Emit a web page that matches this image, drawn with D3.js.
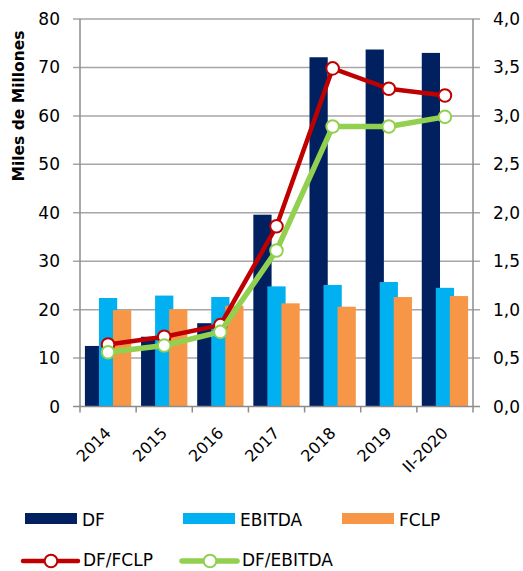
<!DOCTYPE html>
<html><head><meta charset="utf-8">
<script src="https://cdn.jsdelivr.net/npm/d3@7"></script>
<style>body{margin:0;background:#fff}svg{display:block}text{font-family:"DejaVu Sans",sans-serif;fill:#000}</style>
</head><body><svg id="c" width="523" height="571"></svg>
<script>
const categories = ["2014","2015","2016","2017","2018","2019","II-2020"];
const dfValues     = [12.5, 14.4, 17.2, 39.6, 72.1, 73.7, 73.0];
const ebitdaValues = [22.4, 22.9, 22.6, 24.8, 25.1, 25.7, 24.5];
const fclpValues   = [19.9, 20.1, 20.8, 21.3, 20.6, 22.6, 22.8];
const dfFclp   = [0.64, 0.72, 0.84, 1.86, 3.49, 3.28, 3.21];
const dfEbitda = [0.56, 0.63, 0.77, 1.61, 2.89, 2.89, 2.99];
const leftTicks  = [0,10,20,30,40,50,60,70,80];
const rightTicks = [0,0.5,1,1.5,2,2.5,3,3.5,4];
const rightTickLabels = ["0,0","0,5","1,0","1,5","2,0","2,5","3,0","3,5","4,0"];

const svg = d3.select("#c");
const L = 80, R = 473, T = 19, B = 406.5;
const x = d3.scaleBand().domain(categories).range([L, R]).padding(0);
const yL = d3.scaleLinear().domain([0, 80]).range([B, T]);
const yR = d3.scaleLinear().domain([0, 4]).range([B, T]);
const gridCol = "#a6a6a6", axisCol = "#8c8c8c";

// gridlines
svg.append("g").selectAll("line").data(leftTicks.slice(1)).join("line")
  .attr("x1", L - 7).attr("x2", R + 7).attr("y1", d => yL(d)).attr("y2", d => yL(d))
  .attr("stroke", gridCol).attr("stroke-width", 1.5);

// bars
const bw = x.bandwidth(), barW = bw * 0.325, stepW = bw * 0.25;
const series = [
  {vals: dfValues, color: "#002060"},
  {vals: ebitdaValues, color: "#00B0F0"},
  {vals: fclpValues, color: "#F79646"}
];
const gb = svg.append("g");
categories.forEach((c, ci) => {
  series.forEach((s, si) => {
    const cx = x(c) + bw / 2;
    const x0 = cx - (barW + 2 * stepW) / 2 + si * stepW;
    gb.append("rect").attr("x", x0).attr("width", barW)
      .attr("y", yL(s.vals[ci])).attr("height", yL(0) - yL(s.vals[ci]))
      .attr("fill", s.color);
  });
});

// axes
const ga = svg.append("g").attr("stroke", axisCol).attr("stroke-width", 1.5);
ga.append("line").attr("x1", L).attr("x2", L).attr("y1", T).attr("y2", B);
ga.append("line").attr("x1", R).attr("x2", R).attr("y1", T).attr("y2", B);
ga.append("line").attr("x1", L - 7).attr("x2", R + 7).attr("y1", B).attr("y2", B);
ga.selectAll(".xt").data(d3.range(categories.length + 1)).join("line")
  .attr("x1", i => L + i * bw).attr("x2", i => L + i * bw).attr("y1", B).attr("y2", B + 6);

// left tick labels
svg.append("g").selectAll("text").data(leftTicks).join("text")
  .attr("x", 60).attr("y", d => yL(d) + 6).attr("text-anchor", "end")
  .style("font-size", "17px").text(d => d);
// right tick labels
svg.append("g").selectAll("text").data(rightTicks).join("text")
  .attr("x", 493).attr("y", d => yR(d) + 6).attr("text-anchor", "start")
  .style("font-size", "17px").text((d, i) => rightTickLabels[i]);
// x labels
svg.append("g").selectAll("text").data(categories).join("text")
  .attr("text-anchor", "end")
  .attr("transform", d => `translate(${x(d) + bw / 2 + 4},434) rotate(-45)`)
  .style("font-size", "16px").text(d => d);
// y title
svg.append("text").attr("text-anchor", "middle")
  .attr("transform", `translate(24,106) rotate(-90)`)
  .style("font-size", "15.5px").style("font-weight", "bold").text("Miles de Millones");

// lines
const lineGen = d3.line().x((d, i) => x(categories[i]) + bw / 2).y(d => yR(d));
const lines = [
  {vals: dfFclp, color: "#C00000", w: 4.5},
  {vals: dfEbitda, color: "#92D050", w: 5.5}
];
lines.forEach(l => {
  const g = svg.append("g");
  g.append("path").datum(l.vals).attr("d", lineGen).attr("fill", "none")
    .attr("stroke", l.color).attr("stroke-width", l.w).attr("stroke-linejoin", "round");
  g.selectAll("circle").data(l.vals).join("circle")
    .attr("cx", (d, i) => x(categories[i]) + bw / 2).attr("cy", d => yR(d)).attr("r", 6.3)
    .attr("fill", "#fff").attr("stroke", l.color).attr("stroke-width", 2);
});

// legend
const lg = svg.append("g");
const leg1 = [
  {name: "DF", color: "#002060", x: 25},
  {name: "EBITDA", color: "#00B0F0", x: 183},
  {name: "FCLP", color: "#F79646", x: 342}
];
leg1.forEach(d => {
  lg.append("rect").attr("x", d.x).attr("y", 513).attr("width", 52).attr("height", 11).attr("fill", d.color);
  lg.append("text").attr("x", d.x + 57).attr("y", 526).style("font-size", "17px").text(d.name);
});
const leg2 = [
  {name: "DF/FCLP", color: "#C00000", x: 23, w: 4.5},
  {name: "DF/EBITDA", color: "#92D050", x: 182, w: 5.5}
];
leg2.forEach(d => {
  lg.append("line").attr("x1", d.x).attr("x2", d.x + 55).attr("y1", 561).attr("y2", 561)
    .attr("stroke", d.color).attr("stroke-width", d.w).attr("stroke-linecap", "round");
  lg.append("circle").attr("cx", d.x + 28).attr("cy", 561).attr("r", 6.3)
    .attr("fill", "#fff").attr("stroke", d.color).attr("stroke-width", 2);
  lg.append("text").attr("x", d.x + 60).attr("y", 566).style("font-size", "17px").text(d.name);
});
</script></body></html>
